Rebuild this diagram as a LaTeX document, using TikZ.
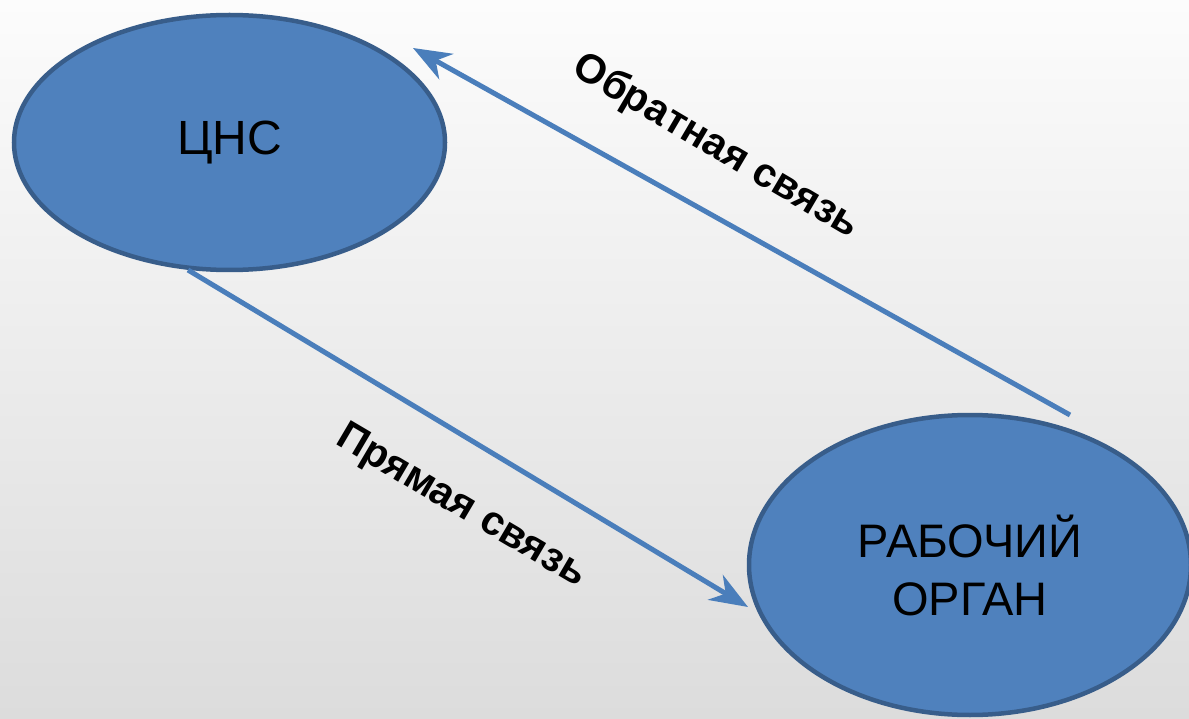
\documentclass[tikz,border=0pt]{standalone}
\usepackage{fontspec}
\setmainfont{Liberation Sans}
\usetikzlibrary{shapes.geometric,arrows.meta}
\definecolor{bgtop}{HTML}{FCFCFC}
\definecolor{bgbot}{HTML}{DCDCDC}
\definecolor{shapefill}{HTML}{4F81BD}
\definecolor{shapeline}{HTML}{385D8A}
\definecolor{linkcol}{HTML}{4A7EBB}
\tikzset{
  organ/.style={ellipse, draw=shapeline, fill=shapefill, line width=4.5pt,
    inner sep=0pt, align=center, text=black},
  link/.style={draw=linkcol, line width=5pt,
    -{Stealth[length=38pt,width=29pt,inset=12pt]}},
  linklabel/.style={font=\bfseries\fontsize{41}{48}\selectfont, rotate=-30.5}
}
\begin{document}
\begin{tikzpicture}[x=1pt,y=-1pt]
  % background with vertical gradient
  \shade[top color=bgtop, bottom color=bgbot] (0,0) rectangle (1189,719);
  \useasboundingbox (0,0) rectangle (1189,719);

  \node[organ, minimum width=431pt, minimum height=255pt,
        font=\fontsize{48}{56}\selectfont] (cns) at (229.5,142.5) {ЦНС};
  \begin{scope}
    \clip (0,0) rectangle (1189,719);
    \node[organ, minimum width=442pt, minimum height=300pt,
          font=\fontsize{47}{58}\selectfont] (work) at (970,565)
          {РАБОЧИЙ\\ОРГАН};
  \end{scope}

  % forward link
  \draw[link] ([shift={(-41.5,127.5)}]cns.center) -- ([shift={(-222,42)}]work.center);
  % feedback link
  \draw[link] ([shift={(100,-150)}]work.center) -- ([shift={(183.5,-94.5)}]cns.center);

  \node[linklabel] (fb) at (716,147) {Обратная связь};
  \node[linklabel] (fw) at (461,507) {Прямая связь};
\end{tikzpicture}
\end{document}
